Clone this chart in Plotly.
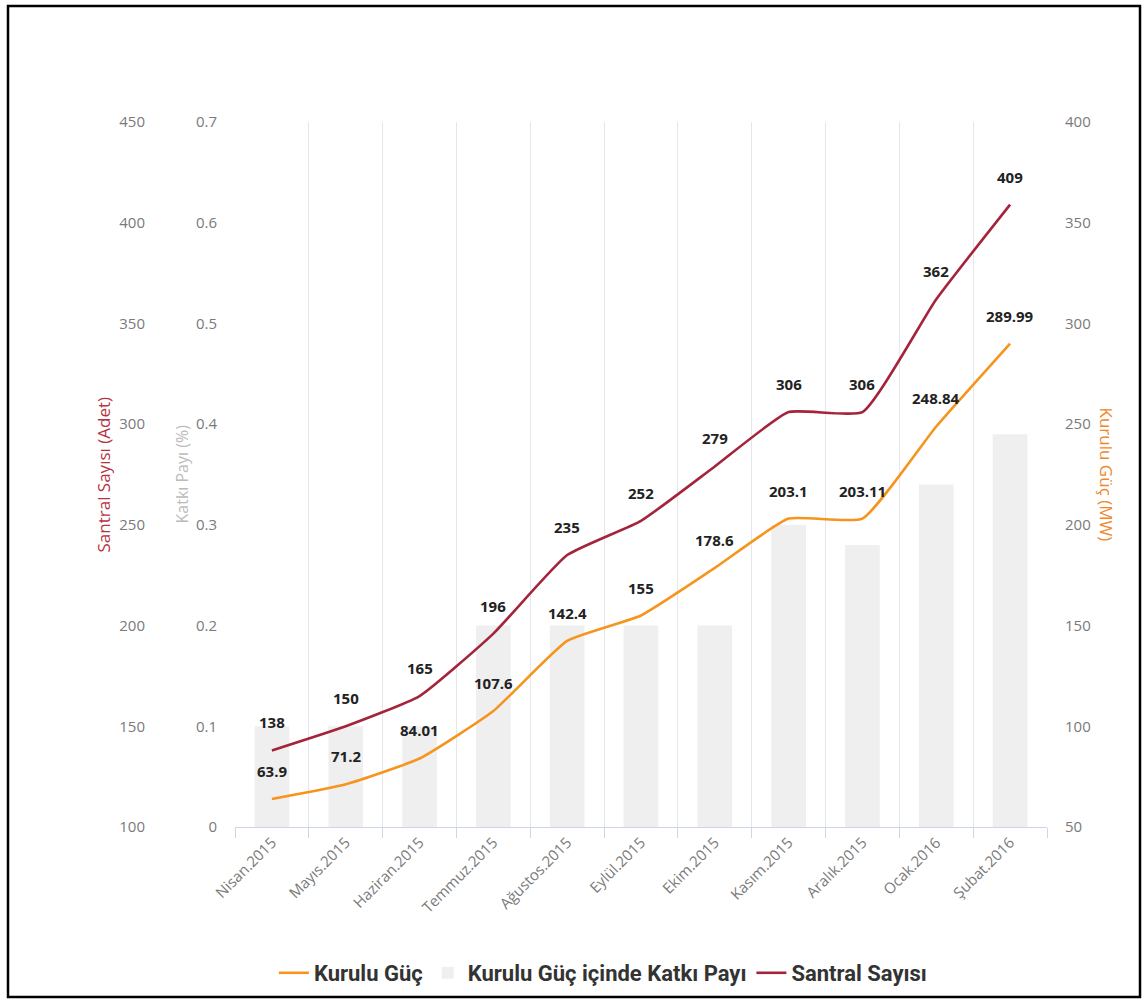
import plotly.graph_objects as go

categories = ["Nisan.2015", "Mayıs.2015", "Haziran.2015", "Temmuz.2015", "Ağustos.2015",
              "Eylül.2015", "Ekim.2015", "Kasım.2015", "Aralık.2015", "Ocak.2016", "Şubat.2016"]
kurulu_guc = [63.9, 71.2, 84.01, 107.6, 142.4, 155, 178.6, 203.1, 203.11, 248.84, 289.99]
katki_payi = [0.1, 0.1, 0.1, 0.2, 0.2, 0.2, 0.2, 0.3, 0.28, 0.34, 0.39]
santral_sayisi = [138, 150, 165, 196, 235, 252, 279, 306, 306, 362, 409]

ORANGE = "#f7941d"
RED = "#a3243b"
BAR = "#efefef"
TICK = "#7a7a7a"
W, H = 1144, 999
X0, X1 = 235 / W, 1047 / W
Y0, Y1 = 1 - 827 / H, 1 - 122 / H
FONT = "Open Sans, sans-serif"

fig = go.Figure()
fig.add_trace(go.Bar(x=categories, y=katki_payi, name="Kurulu Güç içinde Katkı Payı",
                     marker=dict(color=BAR, line=dict(width=0)), width=0.47,
                     yaxis="y", legendrank=2, hoverinfo="y"))
fig.add_trace(go.Scatter(x=categories, y=santral_sayisi, name="Santral Sayısı", mode="lines",
                         line=dict(color=RED, width=2.6, shape="spline", smoothing=0.45),
                         yaxis="y2", legendrank=3))
fig.add_trace(go.Scatter(x=categories, y=kurulu_guc, name="Kurulu Güç", mode="lines",
                         line=dict(color=ORANGE, width=2.6, shape="spline", smoothing=0.45),
                         yaxis="y3", legendrank=1))

lab_font = dict(family="Open Sans, sans-serif", size=15, color="#222222")
ann = []
for c, v in zip(categories, santral_sayisi):
    ann.append(dict(x=c, y=v, xref="x", yref="y2", text=f"<b>{v:g}</b>", showarrow=False,
                    yshift=28, font=lab_font))
for c, v in zip(categories, kurulu_guc):
    ann.append(dict(x=c, y=v, xref="x", yref="y3", text=f"<b>{v:g}</b>", showarrow=False,
                    yshift=28, font=lab_font))

ymid = (Y0 + Y1) / 2
ann.append(dict(x=103 / W, y=ymid, xref="paper", yref="paper", text="Santral Sayısı (Adet)",
                textangle=-90, showarrow=False, xanchor="center", yanchor="middle",
                font=dict(family=FONT, size=17, color="#b5333f")))
ann.append(dict(x=181 / W, y=ymid, xref="paper", yref="paper", text="Katkı Payı (%)",
                textangle=-90, showarrow=False, xanchor="center", yanchor="middle",
                font=dict(family=FONT, size=16, color="#bbbbbb")))
ann.append(dict(x=1106 / W, y=ymid, xref="paper", yref="paper", text="Kurulu Güç (MW)",
                textangle=90, showarrow=False, xanchor="center", yanchor="middle",
                font=dict(family=FONT, size=17, color="#f0872a")))

tickfont = dict(family=FONT, size=15, color=TICK)

fig.update_layout(
    width=W, height=H,
    margin=dict(l=0, r=0, t=0, b=0),
    paper_bgcolor="white", plot_bgcolor="white",
    showlegend=True,
    legend=dict(orientation="h", x=0.527, y=26 / H, xanchor="center", yanchor="middle",
                font=dict(family="Roboto, sans-serif", size=22, color="#333333", weight="bold"),
                itemwidth=30, traceorder="normal"),
    xaxis=dict(domain=[X0, X1], type="category", tickson="boundaries", showgrid=True,
               gridcolor="#e3e6ea", gridwidth=1, showline=True, linecolor="#ccd6eb", linewidth=1,
               ticks="outside", ticklen=10, tickcolor="#ccd6eb", tickangle=-45,
               tickfont=tickfont, anchor="y", range=[-0.5, 10.5], automargin=False),
    yaxis=dict(domain=[Y0, Y1], range=[0, 0.7], dtick=0.1, anchor="free", position=217 / W,
               showgrid=False, zeroline=False, showline=False, tickfont=tickfont,
               tickformat="~g", automargin=False),
    yaxis2=dict(range=[100, 450], dtick=50, overlaying="y", anchor="free", position=145 / W,
                side="left", showgrid=False, zeroline=False, showline=False, tickfont=tickfont,
                automargin=False),
    yaxis3=dict(range=[50, 400], dtick=50, overlaying="y", anchor="free", position=1064 / W,
                side="right", showgrid=False, zeroline=False, showline=False, tickfont=tickfont,
                automargin=False),
    annotations=ann,
    shapes=[dict(type="rect", xref="paper", yref="paper", x0=8 / W, x1=1140 / W,
                 y0=1 - 997 / H, y1=1 - 6 / H, line=dict(color="black", width=2.5))],
)

fig.write_html("out.html")
